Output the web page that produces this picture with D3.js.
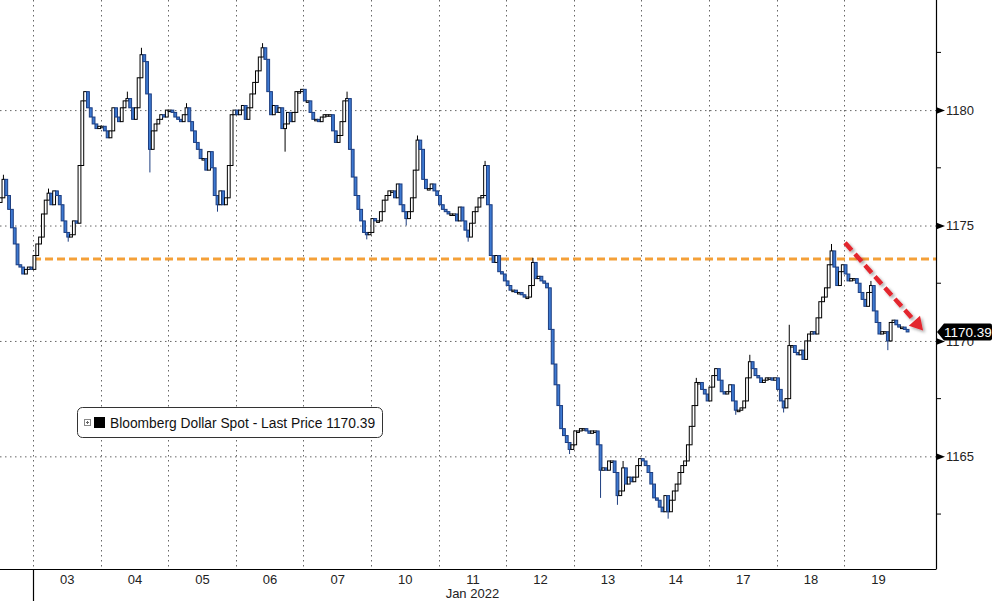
<!DOCTYPE html>
<html><head><meta charset="utf-8">
<script src="https://cdn.jsdelivr.net/npm/d3@7"></script>
<style>
body{margin:0;background:#fff}
svg{display:block}
text{font-family:"Liberation Sans",Arial,sans-serif}
</style>
</head><body>
<svg id="chart" width="992" height="601"></svg>
<script>
// ---------- data ----------
const dayLabels = ["03","04","05","06","07","10","11","12","13","14","17","18","19"];
const monthLabel = "Jan 2022";
const yTickValues = [1165, 1170, 1175, 1180];
const yMinorTicks = [1162.5, 1167.5, 1172.5, 1177.5, 1182.5];
const seriesName = "Bloomberg Dollar Spot - Last Price";
const lastPrice = 1170.39;
const firstOpen = 1176.0;
const supportLevel = 1173.55;
// trend arrow: [hour, value] start and end
const trendArrow = [[288.3, 1174.25], [316.0, 1170.45]];

// hourly closes (Jan 2 evening is hours -12..-1)
const closesJan02 = [1176.2,1177.0,1176.3,1175.7,1174.9,1174.2,1173.3,1173.2,1172.9,1173.1,1173.2,1173.1];
const closesJan03 = [1173.7,1174.2,1174.5,1175.5,1176.1,1176.4,1175.9,1176.5,1176.3,1175.9,1175.2,1174.7,1174.5,1174.6,1175.2,1175.1,1177.6,1180.4,1180.8,1180.1,1179.7,1179.4,1179.2,1179.3];
const closesJan04 = [1179.3,1179.1,1178.8,1179.1,1180.1,1179.7,1179.5,1180.1,1180.4,1180.5,1180.1,1179.6,1180.1,1181.4,1182.4,1182.1,1180.7,1178.3,1179.1,1179.4,1179.6,1179.8,1179.7,1180.0];
const closesJan05 = [1180.0,1179.9,1179.7,1179.6,1179.5,1179.8,1180.1,1179.5,1179.1,1178.6,1178.3,1177.9,1177.9,1177.4,1178.2,1177.5,1176.3,1175.9,1176.5,1175.9,1176.2,1177.6,1179.8,1180.0];
const closesJan06 = [1179.8,1180.0,1180.2,1179.6,1180.1,1180.7,1181.2,1181.7,1182.3,1182.7,1182.2,1180.8,1179.8,1180.2,1179.9,1180.1,1179.2,1179.4,1179.9,1179.5,1179.9,1180.8,1180.8,1180.9];
const closesJan07 = [1180.4,1180.4,1179.9,1179.6,1179.6,1179.5,1179.7,1179.8,1179.8,1179.8,1179.1,1178.6,1178.9,1179.5,1180.4,1180.5,1178.3,1177.1,1176.3,1175.7,1175.2,1174.7,1174.6,1174.7];
const closesJan10 = [1175.3,1175.2,1175.2,1175.6,1176.1,1176.3,1176.5,1176.5,1176.2,1176.8,1175.9,1175.6,1175.3,1175.6,1176.2,1177.4,1178.7,1178.3,1177.0,1176.6,1176.6,1176.8,1176.5,1176.3];
const closesJan11 = [1175.9,1175.7,1175.6,1175.5,1175.5,1175.5,1175.2,1175.8,1175.2,1174.8,1174.5,1175.1,1175.6,1175.8,1176.2,1176.3,1177.6,1175.9,1173.7,1173.4,1173.7,1173.0,1172.9,1172.6];
const closesJan12 = [1172.4,1172.2,1172.2,1172.1,1172.1,1172.0,1171.9,1171.9,1172.4,1173.4,1172.7,1172.8,1172.6,1172.5,1172.3,1170.5,1169.0,1168.1,1167.2,1166.2,1165.9,1165.6,1165.3,1165.5];
const closesJan13 = [1166.1,1166.1,1166.2,1166.2,1166.1,1166.0,1166.1,1166.1,1165.5,1164.4,1164.5,1164.4,1164.8,1164.8,1164.3,1163.3,1163.5,1164.5,1163.8,1164.1,1163.9,1164.1,1164.6,1164.9];
const closesJan14 = [1164.8,1164.6,1164.3,1163.8,1163.2,1163.1,1162.8,1162.6,1163.3,1162.6,1163.1,1163.5,1163.8,1164.3,1164.6,1164.8,1165.5,1166.3,1167.2,1168.2,1168.2,1167.9,1167.7,1167.4];
const closesJan17 = [1168.0,1168.5,1168.8,1168.3,1167.8,1167.7,1167.8,1168.1,1167.4,1167.0,1167.0,1167.1,1167.4,1168.4,1169.1,1168.8,1168.5,1168.4,1168.2,1168.3,1168.4,1168.4,1168.3,1168.4];
const closesJan18 = [1167.9,1167.4,1167.1,1167.5,1169.8,1169.8,1169.5,1169.4,1169.6,1169.2,1170.0,1170.3,1170.4,1170.3,1171.0,1171.7,1171.9,1172.3,1173.3,1173.9,1173.2,1172.4,1173.0,1173.3];
const closesJan19 = [1172.9,1172.6,1172.7,1172.7,1172.5,1172.1,1171.8,1171.5,1172.1,1172.4,1171.3,1170.8,1170.3,1170.4,1170.4,1170.0,1170.8,1170.9,1170.7,1170.6,1170.6,1170.5,1170.39];

// notable wicks: [day, hour, high, low]
const wickExtremes = [
  ["02",1,1177.2,null], ["03",5,1176.6,null], ["03",12,null,1174.3],
  ["04",14,1182.7,null], ["04",17,null,1177.3], ["04",9,1180.8,null],
  ["05",17,null,1175.6], ["05",6,1180.3,null],
  ["06",9,1182.9,null], ["06",17,null,1178.2],
  ["07",15,1180.8,null], ["07",22,null,1174.4],
  ["10",16,1178.9,null], ["10",12,null,1175.0],
  ["11",16,1177.8,null], ["11",10,null,1174.3],
  ["12",9,1173.6,null], ["12",22,null,1165.1],
  ["13",9,null,1163.2], ["13",15,null,1162.9], ["13",17,1164.8,null],
  ["14",9,null,1162.3], ["14",19,1168.4,null],
  ["17",14,1169.4,null], ["17",9,null,1166.8],
  ["18",2,null,1166.9], ["18",4,1170.7,null], ["18",19,1174.2,null],
  ["19",15,null,1169.6], ["19",9,1172.6,null]
];

// ---------- build candles ----------
const days = [{key:"02", start:-12, closes:closesJan02}];
[closesJan03,closesJan04,closesJan05,closesJan06,closesJan07,closesJan10,closesJan11,
 closesJan12,closesJan13,closesJan14,closesJan17,closesJan18,closesJan19]
 .forEach((c,k)=>days.push({key:dayLabels[k], start:24*k, closes:c}));

const candles = [];
let prev = firstOpen;
days.forEach(d => d.closes.forEach((c,i) => {
  const o = prev;
  let hi = Math.max(o,c), lo = Math.min(o,c);
  const w = wickExtremes.find(s => s[0]===d.key && s[1]===i);
  if (w) { if (w[2]!=null) hi = Math.max(hi,w[2]); if (w[3]!=null) lo = Math.min(lo,w[3]); }
  candles.push({t:d.start+i, o, c, hi, lo});
  prev = c;
}));

// ---------- chart ----------
const W = 992, H = 601;
const plotR = 936, plotB = 569;
const svg = d3.select("#chart");
const x = d3.scaleLinear().domain([-11.72, 320.6]).range([0, plotR]);
const y = d3.scaleLinear().domain([1160.12, 1184.77]).range([plotB, 0]);

const defs = svg.append("defs");
defs.append("clipPath").attr("id","plotclip").append("rect")
  .attr("x",0).attr("y",0).attr("width",plotR).attr("height",plotB);
const f = defs.append("filter").attr("id","shadow").attr("x","-20%").attr("y","-20%").attr("width","140%").attr("height","140%");
f.append("feDropShadow").attr("dx",2).attr("dy",2).attr("stdDeviation",1.6)
  .attr("flood-color","#000").attr("flood-opacity",0.35);

// gridlines
const grid = svg.append("g");
grid.selectAll("line.h").data(yTickValues).join("line")
  .attr("x1",0).attr("x2",plotR).attr("y1",d=>y(d)+0.5).attr("y2",d=>y(d)+0.5)
  .attr("stroke","#666").attr("stroke-dasharray","1.5,3.5");
const boundaries = d3.range(0, 13).map(k => 24*k);
grid.selectAll("line.v").data(boundaries).join("line")
  .attr("x1",d=>Math.round(x(d))+0.5).attr("x2",d=>Math.round(x(d))+0.5)
  .attr("y1",0).attr("y2",plotB)
  .attr("stroke","#666").attr("stroke-dasharray","1.5,3.5");

// support line
svg.append("line")
  .attr("x1",x(0)).attr("x2",plotR).attr("y1",y(supportLevel)).attr("y2",y(supportLevel))
  .attr("stroke","#f4a038").attr("stroke-width",3).attr("stroke-dasharray","8,4");

// candles
const cg = svg.append("g").attr("clip-path","url(#plotclip)");
const step = x(1) - x(0);
const bw = step * 1.0;
const blue = "#3d79d2", blueEdge = "#1d3e80";
cg.selectAll("line.wick").data(candles).join("line")
  .attr("x1",d=>x(d.t+0.5)).attr("x2",d=>x(d.t+0.5))
  .attr("y1",d=>y(d.hi)).attr("y2",d=>y(d.lo))
  .attr("stroke",d=>d.c>=d.o ? "#000" : blueEdge).attr("stroke-width",1);
cg.selectAll("rect.body").data(candles).join("rect")
  .attr("x",d=>x(d.t+0.5)-bw/2).attr("width",bw)
  .attr("y",d=>y(Math.max(d.o,d.c)))
  .attr("height",d=>Math.max(1.5, Math.abs(y(d.o)-y(d.c))))
  .attr("fill",d=>d.c>=d.o ? "#fff" : blue)
  .attr("stroke",d=>d.c>=d.o ? "#000" : blueEdge)
  .attr("stroke-width",1);

// trend arrow
const ax1 = x(trendArrow[0][0]), ay1 = y(trendArrow[0][1]);
const ax2 = x(trendArrow[1][0]), ay2 = y(trendArrow[1][1]);
const ang = Math.atan2(ay2-ay1, ax2-ax1);
const headL = 13, headW = 7.5;
const bx = ax2 - headL*Math.cos(ang), by = ay2 - headL*Math.sin(ang);
const ag = svg.append("g").attr("filter","url(#shadow)");
ag.append("line").attr("x1",ax1).attr("y1",ay1).attr("x2",bx).attr("y2",by)
  .attr("stroke","#e3252d").attr("stroke-width",4.5).attr("stroke-dasharray","10,5");
ag.append("path").attr("fill","#e3252d").attr("d",
  `M${ax2},${ay2}L${bx+headW*Math.sin(ang)},${by-headW*Math.cos(ang)}L${bx-headW*Math.sin(ang)},${by+headW*Math.cos(ang)}Z`);

// bottom axis
const xAxis = d3.axisBottom(x)
  .tickValues(dayLabels.map((_,k)=>24*k+12))
  .tickFormat((_,i)=>dayLabels[i]).tickSize(0).tickPadding(0);
const gx = svg.append("g").attr("transform",`translate(0,${plotB})`).call(xAxis);
gx.select(".domain").remove();
gx.selectAll("text").attr("font-size",13).attr("fill","#222").attr("dy",null).attr("y",15);
svg.append("line").attr("x1",0).attr("x2",plotR+0.5).attr("y1",plotB+0.5).attr("y2",plotB+0.5)
  .attr("stroke","#000").attr("stroke-width",1.2);
svg.append("line").attr("x1",Math.round(x(0))+0.5).attr("x2",Math.round(x(0))+0.5)
  .attr("y1",plotB).attr("y2",H).attr("stroke","#000").attr("stroke-width",1.2);
svg.append("text").attr("x",x(6*24+12)).attr("y",598).attr("text-anchor","middle")
  .attr("font-size",13).attr("fill","#222").text(monthLabel);

// right axis
svg.append("line").attr("x1",plotR+0.5).attr("x2",plotR+0.5).attr("y1",0).attr("y2",plotB)
  .attr("stroke","#000").attr("stroke-width",1.2);
const yAxis = d3.axisRight(y).tickValues(yTickValues).tickSize(0).tickPadding(10).tickFormat(d3.format("d"));
const gy = svg.append("g").attr("transform",`translate(${plotR},0)`).call(yAxis);
gy.select(".domain").remove();
gy.selectAll("text").attr("font-size",13).attr("fill","#222");
gy.selectAll(".tick").append("path").attr("d","M0,-3.5L9,0L0,3.5Z").attr("fill","#000");
svg.append("g").selectAll("line").data(yMinorTicks).join("line")
  .attr("x1",plotR).attr("x2",plotR+5).attr("y1",d=>y(d)).attr("y2",d=>y(d))
  .attr("stroke","#000");

// last price label
const ly = y(lastPrice);
svg.append("path").attr("fill","#000")
  .attr("d",`M937,${ly}L944,${ly-8.5}L990,${ly-8.5}Q992,${ly-8.5} 992,${ly-6.5}L992,${ly+6.5}Q992,${ly+8.5} 990,${ly+8.5}L944,${ly+8.5}Z`);
svg.append("text").attr("x",944).attr("y",ly+4.8).attr("font-size",13.5).attr("fill","#fff")
  .text(d3.format(".2f")(lastPrice));

// legend
const lg = svg.append("g");
lg.append("rect").attr("x",77.5).attr("y",407.5).attr("width",305).attr("height",30).attr("rx",5)
  .attr("fill","#fff").attr("stroke","#333");
lg.append("rect").attr("x",84.5).attr("y",419.5).attr("width",6).attr("height",6)
  .attr("fill","#fff").attr("stroke","#888");
lg.append("path").attr("d","M86,422.5H89M87.5,421V424").attr("stroke","#666");
lg.append("rect").attr("x",94).attr("y",417).attr("width",11).attr("height",11).attr("fill","#000");
lg.append("text").attr("x",110).attr("y",428).attr("font-size",13.8).attr("fill","#111")
  .text(`${seriesName} ${d3.format(".2f")(lastPrice)}`);
</script>
</body></html>
